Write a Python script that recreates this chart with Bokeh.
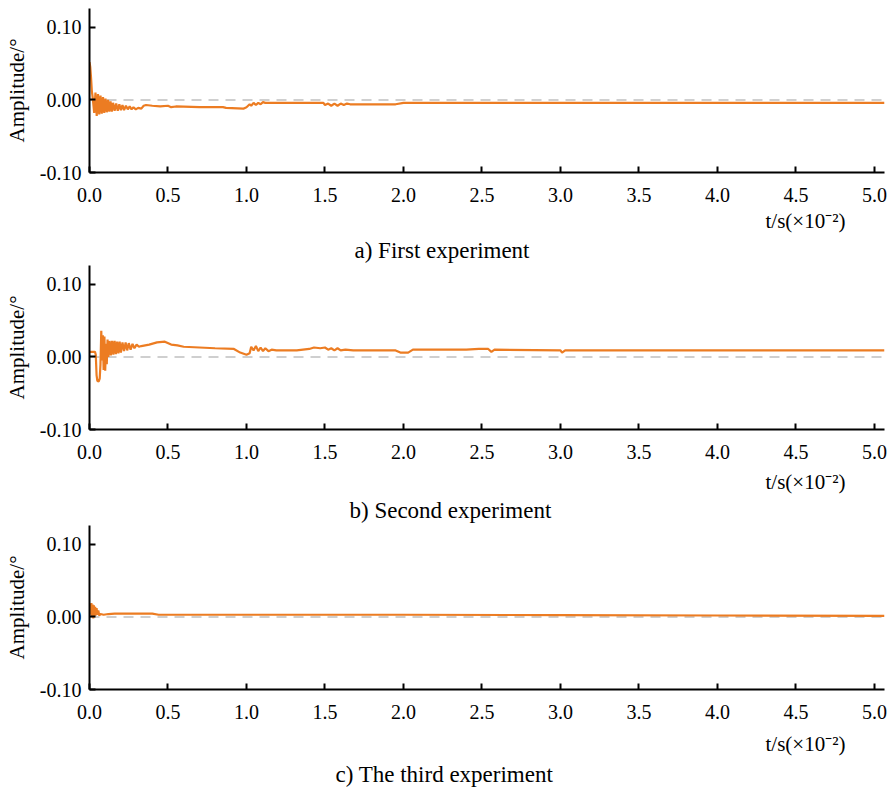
from bokeh.plotting import figure
from bokeh.layouts import column
from bokeh.models import Range1d, FixedTicker, PrintfTickFormatter, Span, Title
from bokeh.embed import file_html
from bokeh.resources import INLINE

# ---------------- data ----------------
t1 = [0.000, 0.005, 0.010, 0.015, 0.020, 0.030, 0.038, 0.046, 0.054, 0.062, 0.070, 0.078,
      0.086, 0.094, 0.102, 0.110, 0.118, 0.126, 0.134, 0.142, 0.150, 0.160, 0.170, 0.180,
      0.190, 0.200, 0.210, 0.220, 0.232, 0.244, 0.256, 0.268, 0.280, 0.295, 0.310, 0.330,
      0.345, 0.360, 0.400, 0.450, 0.500, 0.520, 0.550, 0.700, 0.850, 0.870, 0.980, 1.000,
      1.020, 1.030, 1.045, 1.060, 1.075, 1.090, 1.105, 1.120, 1.300, 1.490, 1.500, 1.520,
      1.540, 1.560, 1.580, 1.600, 1.620, 1.640, 1.660, 1.950, 2.000, 5.064]
y1 = [0.052, 0.045, 0.030, 0.012, 0.004, -0.018, 0.010, -0.022, 0.008, -0.020, 0.006, -0.019,
      0.004, -0.018, 0.002, -0.017, 0.000, -0.016, -0.002, -0.016, -0.004, -0.015, -0.005, -0.015,
      -0.006, -0.014, -0.007, -0.014, -0.008, -0.013, -0.009, -0.013, -0.010, -0.013, -0.011, -0.012,
      -0.008, -0.007, -0.008, -0.009, -0.008, -0.010, -0.009, -0.010, -0.010, -0.011, -0.012, -0.010,
      -0.006, -0.008, -0.004, -0.007, -0.004, -0.006, -0.003, -0.004, -0.004, -0.004, -0.007, -0.005,
      -0.008, -0.005, -0.008, -0.005, -0.007, -0.005, -0.006, -0.006, -0.004, -0.004]

t2 = [0.000, 0.035, 0.040, 0.045, 0.050, 0.058, 0.065, 0.070, 0.075, 0.080, 0.085, 0.090,
      0.095, 0.100, 0.105, 0.110, 0.115, 0.120, 0.128, 0.136, 0.144, 0.152, 0.160, 0.168,
      0.176, 0.184, 0.192, 0.200, 0.210, 0.220, 0.230, 0.240, 0.250, 0.262, 0.274, 0.286,
      0.300, 0.315, 0.330, 0.380, 0.430, 0.480, 0.520, 0.560, 0.600, 0.700, 0.800, 0.920,
      0.960, 1.000, 1.020, 1.030, 1.045, 1.060, 1.075, 1.090, 1.105, 1.120, 1.140, 1.160,
      1.190, 1.320, 1.400, 1.430, 1.470, 1.500, 1.520, 1.540, 1.560, 1.580, 1.600, 1.630,
      1.680, 1.950, 1.980, 2.030, 2.060, 2.400, 2.480, 2.540, 2.560, 2.580, 3.000, 3.010,
      3.030, 5.064]
y2 = [0.007, 0.007, 0.003, -0.025, -0.033, -0.034, -0.030, -0.010, 0.036, -0.005, 0.030, -0.018,
      0.028, -0.019, 0.018, -0.010, 0.024, 0.000, 0.022, 0.002, 0.022, 0.003, 0.022, 0.004,
      0.021, 0.005, 0.021, 0.006, 0.020, 0.008, 0.020, 0.009, 0.019, 0.010, 0.018, 0.012,
      0.017, 0.014, 0.015, 0.017, 0.020, 0.021, 0.017, 0.016, 0.014, 0.013, 0.012, 0.011,
      0.006, 0.003, 0.005, 0.014, 0.009, 0.015, 0.008, 0.013, 0.008, 0.012, 0.008, 0.010,
      0.009, 0.009, 0.011, 0.013, 0.012, 0.013, 0.010, 0.012, 0.009, 0.012, 0.009, 0.010,
      0.009, 0.009, 0.006, 0.006, 0.010, 0.010, 0.011, 0.011, 0.007, 0.010, 0.009, 0.006,
      0.009, 0.009]

t3 = [0.000, 0.004, 0.008, 0.012, 0.016, 0.020, 0.024, 0.028, 0.032, 0.036, 0.040, 0.045,
      0.050, 0.056, 0.062, 0.070, 0.090, 0.120, 0.160, 0.400, 0.440, 1.000, 2.000, 3.000,
      4.000, 5.064]
y3 = [0.008, 0.018, 0.003, 0.019, 0.000, 0.017, -0.002, 0.016, 0.001, 0.014, 0.002, 0.012,
      0.003, 0.009, 0.002, 0.004, 0.003, 0.004, 0.0045, 0.0045, 0.003, 0.003, 0.003, 0.0025,
      0.002, 0.0015]

x_ticks = [0.0, 0.5, 1.0, 1.5, 2.0, 2.5, 3.0, 3.5, 4.0, 4.5, 5.0]
y_ticks = [-0.10, 0.00, 0.10]
captions = ["a) First experiment", "b) Second experiment", "c) The third experiment"]
x_label = "t/s(×10⁻²)"
y_label = "Amplitude/°"

# ---------------- style / layout ----------------
X_START, X_END = 0.0, 5.064
Y_START, Y_END = -0.10, 0.126
FONT = "Liberation Serif"
ORANGE = "#EC7C22"
FIG_W = 890
BORDER_L = 89
BORDER_R = 6


def make_panel(t, y, caption, top, height, tl_standoff, cap_standoff, cap_left):
    p = figure(width=FIG_W, height=height, title=None,
               x_range=Range1d(X_START, X_END), y_range=Range1d(Y_START, Y_END),
               output_backend="svg", toolbar_location=None,
               min_border_left=BORDER_L, min_border_right=BORDER_R, min_border_top=top,
               min_border_bottom=height - top - 164)
    p.outline_line_color = None
    p.grid.visible = False
    p.background_fill_color = "white"
    p.border_fill_color = "white"

    for ax in (p.xaxis[0], p.yaxis[0]):
        ax.axis_line_color = "black"
        ax.axis_line_width = 2
        ax.major_tick_line_color = "black"
        ax.major_tick_line_width = 2
        ax.major_tick_in = 6
        ax.major_tick_out = 0
        ax.minor_tick_line_color = None
        ax.major_label_text_font = FONT
        ax.major_label_text_font_size = "20px"
        ax.major_label_text_color = "black"

    p.xaxis.ticker = FixedTicker(ticks=x_ticks)
    p.xaxis.formatter = PrintfTickFormatter(format="%.1f")
    p.xaxis.major_label_standoff = 15

    p.yaxis.ticker = FixedTicker(ticks=y_ticks)
    p.yaxis.formatter = PrintfTickFormatter(format="%.2f")
    p.yaxis.major_label_standoff = 8
    p.yaxis.axis_label = y_label
    p.yaxis.axis_label_text_font = FONT
    p.yaxis.axis_label_text_font_size = "21px"
    p.yaxis.axis_label_text_font_style = "normal"
    p.yaxis.axis_label_text_color = "black"
    p.yaxis.axis_label_standoff = 8

    zero = Span(location=0, dimension="width", line_color="#cfcfcf",
                line_width=2, line_dash="10 7", level="underlay")
    p.add_layout(zero)

    p.line(t, y, line_color=ORANGE, line_width=2.2)

    p.add_layout(Title(text=x_label, align="right", offset=39, standoff=tl_standoff,
                       text_font=FONT, text_font_size="21px", text_font_style="normal",
                       text_color="black"), "below")
    p.add_layout(Title(text=caption, align="left", offset=cap_left, standoff=cap_standoff,
                       text_font=FONT, text_font_size="23px", text_font_style="normal",
                       text_color="black"), "below")
    return p


p1 = make_panel(t1, y1, captions[0], 8, 265, 5, 0, 265)
p2 = make_panel(t2, y2, captions[1], 0, 260, 12, -7, 260)
p3 = make_panel(t3, y3, captions[2], 0, 263, 16, -7, 246)

layout = column(p1, p2, p3, spacing=0)
open("out.html", "w").write(file_html(layout, INLINE))
